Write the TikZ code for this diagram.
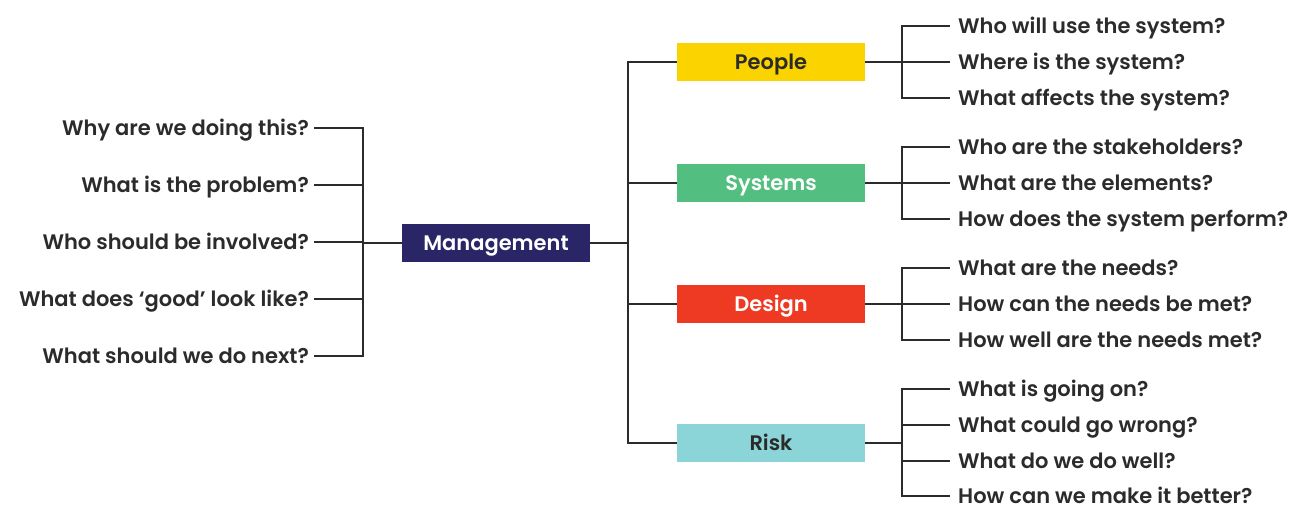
\documentclass[tikz,border=0pt]{standalone}
\usepackage{fontspec}
\setmainfont{Poppins}[UprightFont={* SemiBold}]
\usepackage{tikz}

\definecolor{mgmtblue}{HTML}{2A2566}
\definecolor{peopleyellow}{HTML}{FBD400}
\definecolor{systemsgreen}{HTML}{52BF80}
\definecolor{designred}{HTML}{EE3A23}
\definecolor{riskteal}{HTML}{8BD4D8}
\definecolor{inkgray}{HTML}{2B2B2B}

\begin{document}
\begin{tikzpicture}[x=1pt, y=-1pt,
    every node/.style={font=\fontsize{21}{24}\selectfont, text=inkgray, text height=14.5pt, text depth=0pt},
    branch/.style={line width=2pt, draw=inkgray},
    topicbox/.style={minimum width=188pt, minimum height=38pt, inner sep=0pt},
    askleft/.style={anchor=east, inner xsep=5pt, inner ysep=0pt},
    askright/.style={anchor=west, inner xsep=8pt, inner ysep=0pt}]
    \useasboundingbox (0,0) rectangle (1291,506);

    % The centre
    \node[topicbox, fill=mgmtblue, text=white] (mgmt) at (496,243) {Management};

    % The four topics
    \node[topicbox, fill=peopleyellow] (people) at (771,62) {People};
    \node[topicbox, fill=systemsgreen, text=white] (systems) at (771,183) {Systems};
    \node[topicbox, fill=designred, text=white] (design) at (771,304) {Design};
    \node[topicbox, fill=riskteal] (risk) at (771,443) {Risk};

    % Spines and forks
    \coordinate (lspine) at (363,243);
    \coordinate (rspine) at (628,243);
    \coordinate (peoplefork) at (902,62);
    \coordinate (systemsfork) at (902,183);
    \coordinate (designfork) at (902,304);
    \coordinate (riskfork) at (902,443);

    % Questions on the left
    \node[askleft] (why) at (314,128) {Why are we doing this?};
    \node[askleft] (problem) at (314,185) {What is the problem?};
    \node[askleft] (involved) at (314,242) {Who should be involved?};
    \node[askleft] (good) at (314,299) {What does ‘good’ look like?};
    \node[askleft] (next) at (314,356) {What should we do next?};

    % Questions on the right
    \node[askright] (peopleA) at (950,26) {Who will use the system?};
    \node[askright] (peopleB) at (950,62) {Where is the system?};
    \node[askright] (peopleC) at (950,98) {What affects the system?};
    \node[askright] (systemsA) at (950,147) {Who are the stakeholders?};
    \node[askright] (systemsB) at (950,183) {What are the elements?};
    \node[askright] (systemsC) at (950,219) {How does the system perform?};
    \node[askright] (designA) at (950,268) {What are the needs?};
    \node[askright] (designB) at (950,304) {How can the needs be met?};
    \node[askright] (designC) at (950,340) {How well are the needs met?};
    \node[askright] (riskA) at (950,389) {What is going on?};
    \node[askright] (riskB) at (950,425) {What could go wrong?};
    \node[askright] (riskC) at (950,461) {What do we do well?};
    \node[askright] (riskD) at (950,496) {How can we make it better?};

    % Left bracket
    \draw[branch] (mgmt.west) -- (lspine);
    \foreach \q in {why, problem, involved, good, next}
        \draw[branch] (\q.east) -| (lspine);

    % Right bracket
    \draw[branch] (mgmt.east) -- (rspine);
    \foreach \t in {people, systems, design, risk}
        \draw[branch] (\t.west) -| (rspine);

    % Forks to the questions
    \foreach \t/\qs in {people/{A,B,C}, systems/{A,B,C}, design/{A,B,C}, risk/{A,B,C,D}} {
        \draw[branch] (\t.east) -- (\t fork);
        \foreach \k in \qs
            \draw[branch] (\t\k.west) -| (\t fork);
    }
\end{tikzpicture}
\end{document}
